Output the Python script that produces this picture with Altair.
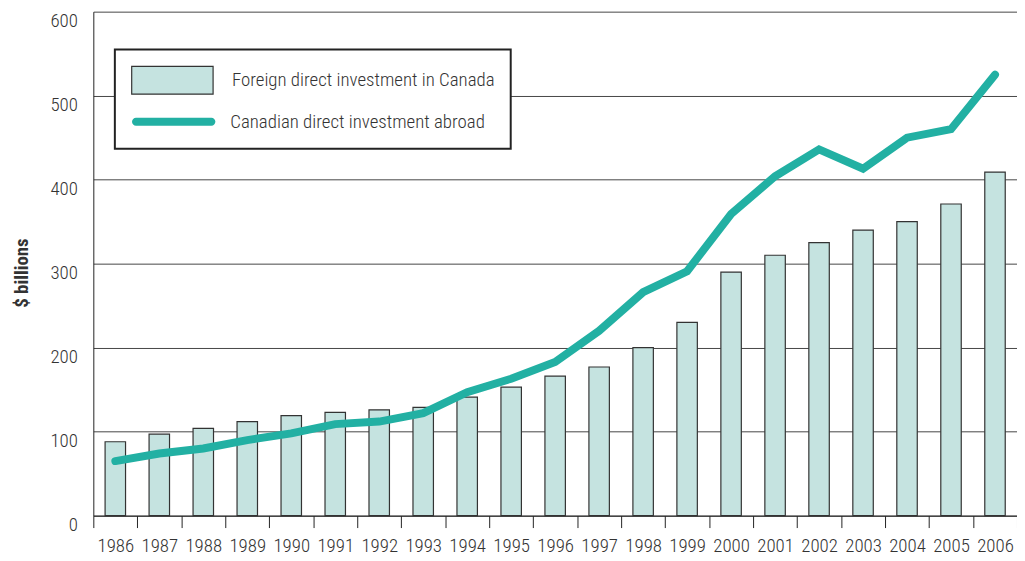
import altair as alt
import pandas as pd

years = [str(y) for y in range(1986, 2007)]
fdi_in_canada = [88, 97, 104, 112, 119, 123, 126, 129, 141, 153, 166, 177,
                 200, 230, 290, 310, 325, 340, 350, 371, 409]
cdn_abroad = [65, 74, 80, 90, 98, 109, 112, 122, 147, 163, 183, 220,
              266, 291, 359, 404, 436, 413, 450, 460, 525]
y_ticks = [0, 100, 200, 300, 400, 500, 600]
bar_label = "Foreign direct investment in Canada"
line_label = "Canadian direct investment abroad"

BAR_FILL = "#c5e3e0"
TEAL = "#22b0a3"
INK = "#333333"
FONT = "Roboto Condensed, Liberation Sans Narrow, DejaVu Sans Condensed, sans-serif"
STADIUM = ("M-2.714,-0.286H2.714A0.286,0.286 0 0 1 2.714,0.286"
           "H-2.714A0.286,0.286 0 0 1 -2.714,-0.286Z")

df = pd.DataFrame({"year": years, "fdi": fdi_in_canada, "cdia": cdn_abroad})

x_enc = alt.X(
    "year:N",
    title=None,
    sort=years,
    scale=alt.Scale(paddingInner=0, paddingOuter=0),
    axis=alt.Axis(labelAngle=0, tickBand="extent", tickSize=12, labelPadding=9,
                  domainColor="#222222", tickColor="#222222", grid=False),
)

y_axis = alt.Axis(values=y_ticks, title="$ billions", ticks=False, labelPadding=16,
                  labelBaseline="top", grid=True, gridColor="#444444", gridWidth=1,
                  domainColor="#222222", titleFontWeight="bold", titleFontSize=19,
                  titleX=-66, titleY=263, titleBaseline="alphabetic")

base = alt.Chart(df)

bars = base.transform_calculate(series=f"'{bar_label}'").mark_bar(
    width=alt.RelativeBandSize(0.465), stroke=INK, strokeWidth=1.2
).encode(
    x=x_enc,
    y=alt.Y("fdi:Q", scale=alt.Scale(domain=[0, 600]), axis=y_axis),
    fill=alt.Fill(
        "series:N",
        scale=alt.Scale(domain=[bar_label], range=[BAR_FILL]),
        legend=alt.Legend(
            orient="none", legendX=21.7, legendY=38.2,
            title=" ", titleOrient="bottom", titleOpacity=0, titleFontSize=19,
            titlePadding=18, padding=16, strokeColor="#222222", fillColor="white",
            symbolType="M-2.93,-1H2.93V1H-2.93Z", symbolSize=784, symbolOffset=27,
            symbolStrokeColor=INK, symbolStrokeWidth=1.2,
            labelOffset=45, labelLimit=0, zindex=1,
        ),
    ),
)

line = base.transform_calculate(series2=f"'{line_label}'").mark_line(
    strokeWidth=8, strokeCap="round", strokeJoin="miter"
).encode(
    x=x_enc,
    y=alt.Y("cdia:Q", scale=alt.Scale(domain=[0, 600])),
    stroke=alt.Stroke(
        "series2:N",
        scale=alt.Scale(domain=[line_label], range=[TEAL]),
        legend=alt.Legend(
            orient="none", legendX=67, legendY=97, title=None, padding=0,
            symbolType=STADIUM, symbolSize=784, symbolStrokeWidth=0,
            symbolFillColor=TEAL,
            labelOffset=43, labelLimit=0, zindex=2,
        ),
    ),
)

chart = alt.layer(bars, line).properties(
    width=931, height=508,
    autosize=alt.AutoSizeParams(type="none"),
    padding={"left": 86, "top": 1.5, "right": 0, "bottom": 40},
).configure_view(stroke=None).configure_axis(
    labelFont=FONT, titleFont=FONT, labelFontSize=19, labelFontWeight=300,
    labelColor=INK, titleColor=INK,
).configure_legend(
    labelFont=FONT, labelFontSize=19, labelFontWeight=300, labelColor=INK,
    titleFont=FONT, strokeWidth=2,
)

chart.save("out.html", embed_options={"renderer": "svg", "actions": False})
